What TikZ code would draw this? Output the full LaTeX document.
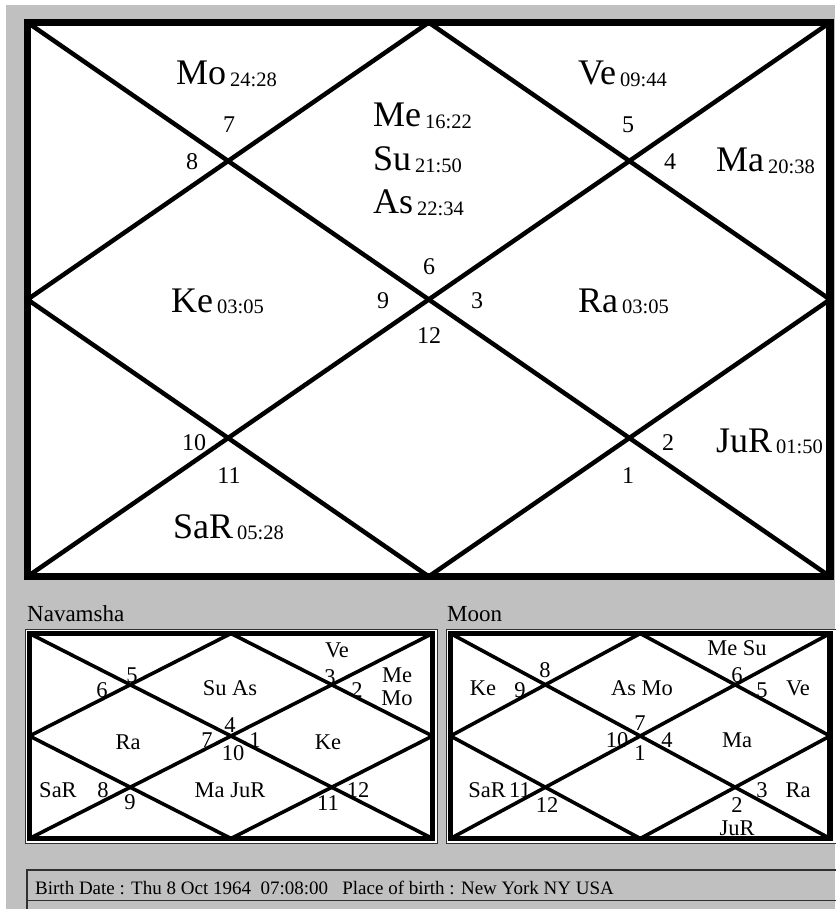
\documentclass[tikz,border=0pt]{standalone}
\usepackage{fontspec}
\setmainfont{Liberation Serif}
\usetikzlibrary{calc}
\definecolor{bg}{HTML}{C0C0C0}
\definecolor{edge}{HTML}{303030}
\newcommand{\dgsub}[1]{\kern4pt\lower1.5pt\hbox{\fontsize{20.5}{22}\selectfont #1}}
\begin{document}
\begin{tikzpicture}[x=1pt,y=-1pt,
  frame/.style={line width=7.5pt},
  sframe/.style={line width=5.5pt},
  diag/.style={line width=4.5pt,line join=round},
  sdiag/.style={line width=3.6pt,line join=round},
  thinedge/.style={draw=edge,line width=1pt},
  pname/.style={font=\fontsize{36}{40}\selectfont,anchor=base west,inner sep=0pt},
  hnum/.style={font=\fontsize{24}{26}\selectfont,anchor=base,inner sep=0pt},
  sm/.style={font=\fontsize{22.5}{24}\selectfont,anchor=base,inner sep=0pt},
  lbl/.style={font=\fontsize{23}{25}\selectfont,anchor=base west,inner sep=0pt},
  info/.style={font=\fontsize{19}{21}\selectfont,anchor=base west,inner sep=0pt}]
\useasboundingbox (0,0) rectangle (835,909);
\fill[white] (0,0) rectangle (835,909);
\fill[bg] (6,5) rectangle (835,909);

% ---------- main chart ----------
\coordinate (TL) at (27.5,22.5);
\coordinate (TR) at (830,22.5);
\coordinate (BR) at (830,576.5);
\coordinate (BL) at (27.5,576.5);
\coordinate (TM) at ($(TL)!0.5!(TR)$);
\coordinate (BM) at ($(BL)!0.5!(BR)$);
\coordinate (LM) at ($(TL)!0.5!(BL)$);
\coordinate (RM) at ($(TR)!0.5!(BR)$);
\fill[white] (TL) rectangle (BR);
\draw[diag] (TL) -- (BR);
\draw[diag] (TR) -- (BL);
\draw[diag] (TM) -- (LM) -- (BM) -- (RM) -- cycle;
\draw[frame] (TL) rectangle (BR);

\node[pname] (mo) at (176,85) {Mo\dgsub{24:28}};
\node[pname] (ve) at (578,85) {Ve\dgsub{09:44}};
\node[pname] (me) at (373,127) {Me\dgsub{16:22}};
\node[pname] (su) at (373,171) {Su\dgsub{21:50}};
\node[pname] (as) at (373,214) {As\dgsub{22:34}};
\node[pname] (ma) at (716,172) {Ma\dgsub{20:38}};
\node[pname] (ke) at (171,312) {Ke\dgsub{03:05}};
\node[pname] (ra) at (578,312) {Ra\dgsub{03:05}};
\node[pname] (ju) at (716,452) {JuR\dgsub{01:50}};
\node[pname] (sa) at (173,538) {SaR\dgsub{05:28}};

\node[hnum] (h7) at (229,133) {7};
\node[hnum] (h8) at (192,170) {8};
\node[hnum] (h5) at (628,133) {5};
\node[hnum] (h4) at (670,170) {4};
\node[hnum] (h6) at (429,274) {6};
\node[hnum] (h9) at (383,308) {9};
\node[hnum] (h3) at (477,308) {3};
\node[hnum] (h12) at (429,343) {12};
\node[hnum] (h10) at (194,450) {10};
\node[hnum] (h11) at (229,483) {11};
\node[hnum] (h2) at (668,450) {2};
\node[hnum] (h1) at (628,483) {1};

% ---------- Navamsha ----------
\node[lbl] (navlbl) at (27,621) {Navamsha};
\filldraw[fill=white,thinedge] (25.5,629.5) rectangle (437,843);
\coordinate (NTL) at (29.5,633.5);
\coordinate (NTR) at (432.5,633.5);
\coordinate (NBR) at (432.5,838.5);
\coordinate (NBL) at (29.5,838.5);
\coordinate (NTM) at ($(NTL)!0.5!(NTR)$);
\coordinate (NBM) at ($(NBL)!0.5!(NBR)$);
\coordinate (NLM) at ($(NTL)!0.5!(NBL)$);
\coordinate (NRM) at ($(NTR)!0.5!(NBR)$);
\draw[sdiag] (NTL) -- (NBR);
\draw[sdiag] (NTR) -- (NBL);
\draw[sdiag] (NTM) -- (NLM) -- (NBM) -- (NRM) -- cycle;
\draw[sframe] (NTL) rectangle (NBR);

\node[sm] (n5) at (132,682) {5};
\node[sm] (n6) at (102,697) {6};
\node[sm] (nsuas) at (230,695) {Su As};
\node[sm] (nve) at (337,657) {Ve};
\node[sm] (n3) at (330,684) {3};
\node[sm] (n2) at (357,697) {2};
\node[sm] (nme) at (397,682) {Me};
\node[sm] (nmo) at (397,705) {Mo};
\node[sm] (nra) at (128,749) {Ra};
\node[sm] (n7) at (207,747) {7};
\node[sm] (n4) at (230,732) {4};
\node[sm] (n10) at (233,760) {10};
\node[sm] (n1) at (255,747) {1};
\node[sm] (nke) at (328,749) {Ke};
\node[sm] (nsa) at (58,797) {SaR};
\node[sm] (n8) at (103,797) {8};
\node[sm] (n9) at (130,809) {9};
\node[sm] (nmaju) at (230,797) {Ma JuR};
\node[sm] (n11) at (328,810) {11};
\node[sm] (n12) at (358,797) {12};

% ---------- Moon ----------
\node[lbl] (moonlbl) at (447,621) {Moon};
\filldraw[fill=white,thinedge] (446.5,629.5) rectangle (836,843);
\coordinate (MTL) at (450.5,633.5);
\coordinate (MTR) at (830,633.5);
\coordinate (MBR) at (830,838.5);
\coordinate (MBL) at (450.5,838.5);
\coordinate (MTM) at ($(MTL)!0.5!(MTR)$);
\coordinate (MBM) at ($(MBL)!0.5!(MBR)$);
\coordinate (MLM) at ($(MTL)!0.5!(MBL)$);
\coordinate (MRM) at ($(MTR)!0.5!(MBR)$);
\draw[sdiag] (MTL) -- (MBR);
\draw[sdiag] (MTR) -- (MBL);
\draw[sdiag] (MTM) -- (MLM) -- (MBM) -- (MRM) -- cycle;
\draw[sframe] (MTL) rectangle (MBR);

\node[sm] (mke) at (483,695) {Ke};
\node[sm] (m9) at (520,697) {9};
\node[sm] (m8) at (545,677) {8};
\node[sm] (masmo) at (642,695) {As Mo};
\node[sm] (mmesu) at (737,655) {Me Su};
\node[sm] (m6) at (737,682) {6};
\node[sm] (m5) at (762,697) {5};
\node[sm] (mve) at (798,695) {Ve};
\node[sm] (m10) at (617,747) {10};
\node[sm] (m7) at (640,730) {7};
\node[sm] (m1) at (640,760) {1};
\node[sm] (m4) at (667,747) {4};
\node[sm] (mma) at (737,747) {Ma};
\node[sm] (msa) at (487,797) {SaR};
\node[sm] (m11) at (520,797) {11};
\node[sm] (m12) at (547,812) {12};
\node[sm] (m2) at (737,812) {2};
\node[sm] (m3) at (762,797) {3};
\node[sm] (mra) at (798,797) {Ra};
\node[sm] (mju) at (737,835) {JuR};

% ---------- birth info ----------
\draw[edge,line width=1.6pt] (27,910) -- (27,870) -- (836,870);
\draw[edge,line width=1pt] (27,900) -- (836,900);
\node[info] (birth) at (35,894) {Birth Date : Thu 8 Oct 1964\ \ 07:08:00\ \ \ Place of birth : New York NY USA};
\end{tikzpicture}
\end{document}
